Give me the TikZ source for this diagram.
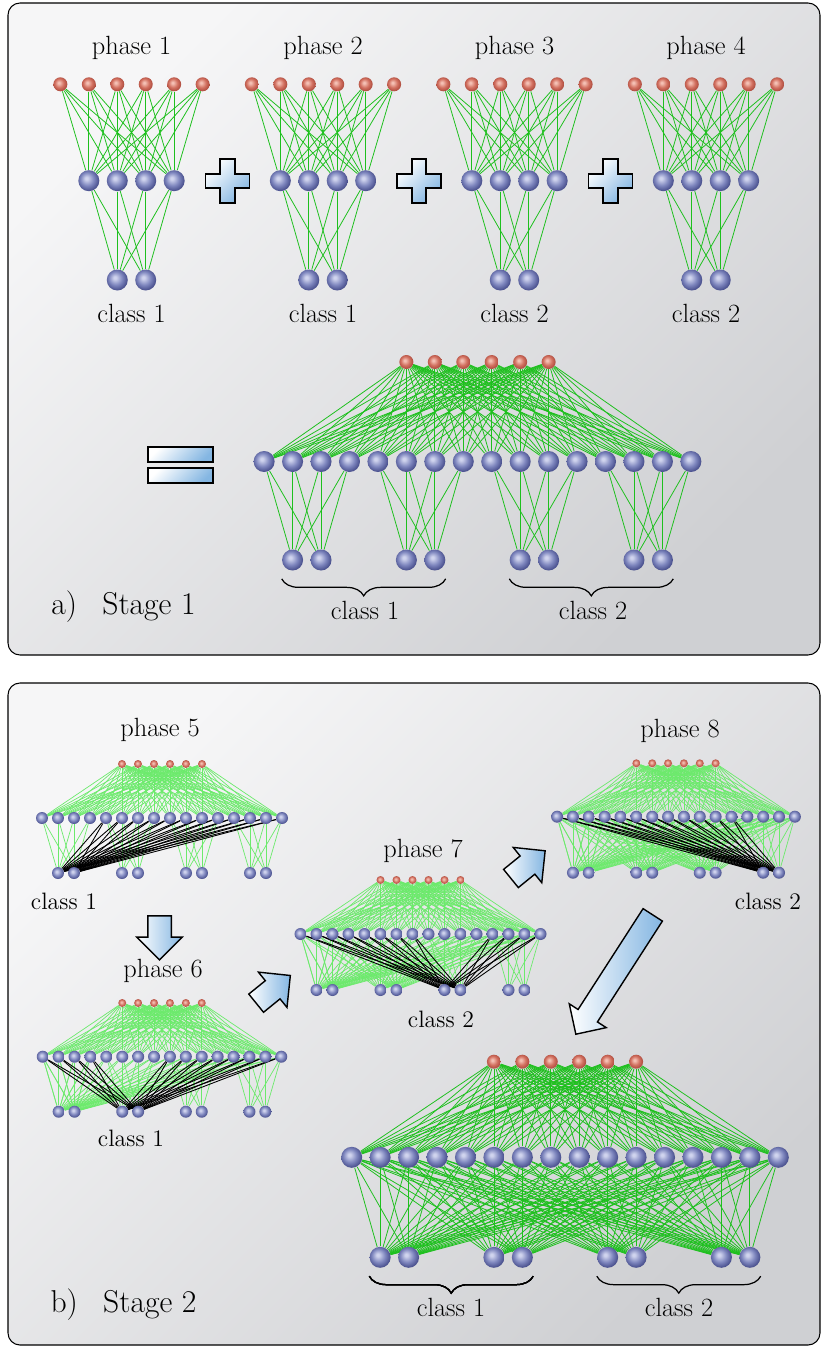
\documentclass[tikz,border=0pt]{standalone}
\usetikzlibrary{shapes.arrows,decorations.pathreplacing,calc}
\definecolor{edgeA}{RGB}{30,192,30}
\definecolor{edgeB}{RGB}{108,234,108}
\definecolor{hidLight}{RGB}{208,212,238}
\definecolor{hidMid}{RGB}{126,134,190}
\definecolor{hidDark}{RGB}{48,54,118}
\definecolor{inpLight}{RGB}{244,192,180}
\definecolor{inpMid}{RGB}{210,112,96}
\definecolor{inpDark}{RGB}{155,58,46}
\definecolor{symBlue}{RGB}{132,182,226}
\definecolor{panelLight}{RGB}{246,246,247}
\definecolor{panelDark}{RGB}{207,208,211}
\pgfdeclareradialshading{hidball}{\pgfpoint{-6bp}{6bp}}{color(0bp)=(hidLight); color(3bp)=(hidLight); color(16bp)=(hidMid); color(32bp)=(hidDark); color(50bp)=(hidDark)}
\pgfdeclareradialshading{inpball}{\pgfpoint{-6bp}{6bp}}{color(0bp)=(inpLight); color(3bp)=(inpLight); color(16bp)=(inpMid); color(32bp)=(inpDark); color(50bp)=(inpDark)}
\pgfdeclarelayer{bg}
\pgfdeclarelayer{edges}
\pgfsetlayers{bg,edges,main}
\begin{document}
\begin{tikzpicture}[x=0.02cm,y=-0.02cm,every node/.style={font=\fontsize{15}{18}\selectfont}]
    \tikzset{
      inp/.style={circle,shading=inpball,inner sep=0pt,minimum size=0.28cm},
      hid/.style={circle,shading=hidball,inner sep=0pt,minimum size=0.42cm},
      inps/.style={inp,minimum size=0.16cm},
      hids/.style={hid,minimum size=0.24cm},
      wA/.style={edgeA,line width=0.45pt},
      wB/.style={edgeB,line width=0.4pt},
      wK/.style={black,line width=0.5pt},
      panel/.style={draw=black,line width=0.6pt,rounded corners=0.24cm,
        top color=panelLight,bottom color=panelDark,shading angle=45},
      sym/.style={draw=black,line width=0.9pt,top color=white,bottom color=symBlue,shading angle=45},
      blk/.style={single arrow,draw=black,line width=0.8pt,inner xsep=0pt,inner ysep=0.22cm,
        left color=white,right color=symBlue,single arrow head extend=0.22cm,
        minimum height=0.88cm},
      brc/.style={decorate,decoration={brace,mirror,amplitude=0.34cm},line width=0.7pt},
      lbls/.style={font=\fontsize{13.5}{16}\selectfont},
      stage/.style={font=\fontsize{18}{21}\selectfont}
    }
    \newcommand{\threeNet}[2]{%
      \foreach \i in {0,...,5}
        \node[inp] (#1r\i) at ({#2+(\i-2.5)*28.45},84.3) {};
      \foreach \hj in {0,...,3}
        \node[hid] (#1h\hj) at ({#2+(\hj-1.5)*28.45},180.7) {};
      \foreach \k in {0,1}
        \node[hid] (#1o\k) at ({#2+(\k-0.5)*28.45},280) {};
      \begin{pgfonlayer}{edges}
        \foreach \i in {0,...,5}
          \foreach \hj in {0,...,3}
            \draw[wA] (#1r\i) -- (#1h\hj);
        \foreach \hj in {0,...,3}
          \foreach \k in {0,1}
            \draw[wA] (#1h\hj) -- (#1o\k);
      \end{pgfonlayer}
    }
    \newcommand{\wideNet}[8]{%
      \foreach \i in {0,...,5}
        \node[#7] (#1r\i) at ({#2+(\i-2.5)*#3},#4) {};
      \foreach \hj in {0,...,15}
        \node[#8] (#1h\hj) at ({#2+(\hj-7.5)*#3},#5) {};
      \foreach \k in {0,...,7}{
        \pgfmathtruncatemacro{\col}{4*int(\k/2)+1+mod(\k,2)}
        \node[#8] (#1o\k) at ({#2+(\col-7.5)*#3},#6) {};
      }
    }
    \newcommand{\fanIn}[2]{%
      \begin{pgfonlayer}{edges}
        \foreach \i in {0,...,5}
          \foreach \hj in {0,...,15}
            \draw[#2] (#1r\i) -- (#1h\hj);
      \end{pgfonlayer}
    }
    \newcommand{\ownGroup}[2]{%
      \begin{pgfonlayer}{edges}
        \foreach \k in {0,...,7}
          \foreach \m in {0,...,3}{
            \pgfmathtruncatemacro{\hi}{4*int(\k/2)+\m}
            \draw[#2] (#1h\hi) -- (#1o\k);
          }
      \end{pgfonlayer}
    }
    \newcommand{\fullPair}[3]{%
      \begin{pgfonlayer}{edges}
        \foreach \k in {0,1}
          \foreach \hj in {0,...,15}{
            \pgfmathtruncatemacro{\oi}{2*#2+\k}
            \draw[#3] (#1h\hj) -- (#1o\oi);
          }
      \end{pgfonlayer}
    }
    \newcommand{\crossPair}[3]{%
      \begin{pgfonlayer}{edges}
        \foreach \k in {0,1}
          \foreach \hj in {0,...,15}{
            \pgfmathtruncatemacro{\oi}{2*#2+\k}
            \pgfmathtruncatemacro{\grp}{int(\hj/4)}
            \ifnum\grp=#2\relax\else
              \draw[#3] (#1h\hj) -- (#1o\oi);
            \fi
          }
      \end{pgfonlayer}
    }
    \newcommand{\plusSign}[2]{%
      \begin{scope}[shift={(#1,#2)}]
        \path[sym] (-7.25,-22) -- (7.25,-22) -- (7.25,-7.25) -- (22,-7.25) -- (22,7.25)
          -- (7.25,7.25) -- (7.25,22) -- (-7.25,22) -- (-7.25,7.25) -- (-22,7.25)
          -- (-22,-7.25) -- (-7.25,-7.25) -- cycle;
      \end{scope}
    }

    \useasboundingbox (0,0) rectangle (821,1349);
    \begin{pgfonlayer}{bg}
      \path[panel] (8,3) rectangle (820,655);
      \path[panel] (8,683) rectangle (820,1345);
    \end{pgfonlayer}

    % stage 1: four phases
    \threeNet{n1}{131.5}
    \threeNet{n2}{323}
    \threeNet{n3}{514.5}
    \threeNet{n4}{706}
    \node (t1) at (131.5,48) {phase 1};
    \node (t2) at (323,48) {phase 2};
    \node (t3) at (514.5,48) {phase 3};
    \node (t4) at (706,48) {phase 4};
    \node (c1) at (131.5,313) {class 1};
    \node (c2) at (323,313) {class 1};
    \node (c3) at (514.5,313) {class 2};
    \node (c4) at (706,313) {class 2};
    \plusSign{227.5}{181}
    \plusSign{419}{181}
    \plusSign{610.5}{181}
    \path[sym] (148,447) rectangle (213,462);
    \path[sym] (148,468) rectangle (213,483);

    \wideNet{stA}{477.5}{28.45}{362}{461.5}{560}{inp}{hid}
    \fanIn{stA}{wA}
    \ownGroup{stA}{wA}
    \draw[brc] ($(stAo0.west |- stAo0.south)+(0,8)$) -- ($(stAo3.east |- stAo3.south)+(0,8)$);
    \draw[brc] ($(stAo4.west |- stAo4.south)+(0,8)$) -- ($(stAo7.east |- stAo7.south)+(0,8)$);
    \node (cA1) at (365,610) {class 1};
    \node (cA2) at (593,610) {class 2};
    \node[stage] (sa) at (123.5,607) {a)\hspace{0.8em}Stage 1};

    % stage 2: phases 5 to 8
    \wideNet{ph5}{162}{16}{764}{818}{873}{inps}{hids}
    \fanIn{ph5}{wB}
    \ownGroup{ph5}{wB}
    \crossPair{ph5}{0}{wK}
    \wideNet{ph6}{162}{15.9}{1003}{1056.7}{1111.7}{inps}{hids}
    \fanIn{ph6}{wB}
    \ownGroup{ph6}{wB}
    \fullPair{ph6}{0}{wB}
    \crossPair{ph6}{1}{wK}
    \wideNet{ph7}{420.5}{16}{880}{934}{990}{inps}{hids}
    \fanIn{ph7}{wB}
    \ownGroup{ph7}{wB}
    \fullPair{ph7}{0}{wB}
    \fullPair{ph7}{1}{wB}
    \crossPair{ph7}{2}{wK}
    \wideNet{ph8}{676}{15.85}{763.3}{816.7}{872.7}{inps}{hids}
    \fanIn{ph8}{wB}
    \ownGroup{ph8}{wB}
    \fullPair{ph8}{0}{wB}
    \fullPair{ph8}{1}{wB}
    \fullPair{ph8}{2}{wB}
    \crossPair{ph8}{3}{wK}
    \node (t5) at (160,730) {phase 5};
    \node (t6) at (163,971) {phase 6};
    \node (t7) at (423,851) {phase 7};
    \node (t8) at (680,731) {phase 8};
    \node[lbls] (c5) at (64,901) {class 1};
    \node[lbls] (c6) at (131,1138) {class 1};
    \node[lbls] (c7) at (441,1019) {class 2};
    \node[lbls] (c8) at (768,901) {class 2};
    \node[blk,rotate=-90] (a56) at (159.6,932) {};
    \node[blk,rotate=39] (a67) at (268.7,993) {};
    \node[blk,rotate=39] (a78) at (523.5,868.3) {};
    \node[blk,rotate=-122.8,minimum height=2.84cm,inner ysep=0.216cm,
      single arrow head extend=0.21cm] (a8F) at (617.4,969.7) {};

    % stage 2: merged network
    \wideNet{stB}{565}{28.44}{1061.7}{1157.3}{1257.3}{inp}{hid}
    \fanIn{stB}{wA}
    \foreach \p in {0,...,3}
      \fullPair{stB}{\p}{wA}
    \draw[brc] ($(stBo0.west |- stBo0.south)+(0,8)$) -- ($(stBo3.east |- stBo3.south)+(0,8)$);
    \draw[brc] ($(stBo4.west |- stBo4.south)+(0,8)$) -- ($(stBo7.east |- stBo7.south)+(0,8)$);
    \node (cB1) at (451,1307) {class 1};
    \node (cB2) at (679,1307) {class 2};
    \node[stage] (sb) at (123.5,1305) {b)\hspace{0.8em}Stage 2};
  \end{tikzpicture}
\end{document}
